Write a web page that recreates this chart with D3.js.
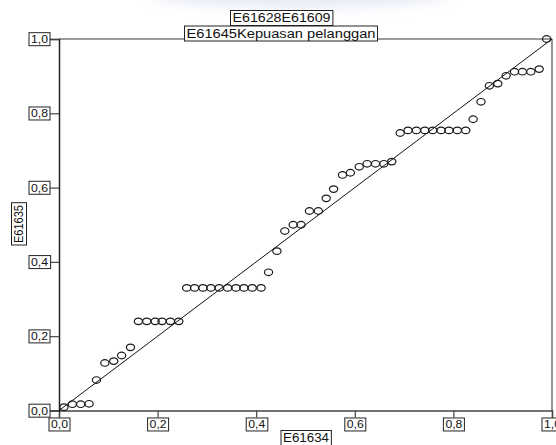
<!DOCTYPE html>
<html>
<head>
<meta charset="utf-8">
<script src="https://cdn.jsdelivr.net/npm/d3@7/dist/d3.min.js"></script>
<style>
  html, body { margin: 0; padding: 0; background: #fff; }
  svg { display: block; }
  text { font-family: "Liberation Sans", Arial, sans-serif; fill: #111; }
</style>
</head>
<body>
<svg id="chart" width="556" height="445"></svg>
<script>
// P-P plot data: expected cumulative proportion (x) vs observed (y)
const expectedCum = [
  0.010, 0.027, 0.044, 0.061, 0.076, 0.093, 0.111, 0.127, 0.145, 0.161,
  0.178, 0.195, 0.209, 0.226, 0.243, 0.259, 0.275, 0.292, 0.308, 0.325,
  0.342, 0.359, 0.375, 0.392, 0.410, 0.425, 0.442, 0.458, 0.475, 0.491,
  0.508, 0.526, 0.542, 0.557, 0.575, 0.591, 0.609, 0.625, 0.642, 0.659,
  0.675, 0.692, 0.708, 0.725, 0.742, 0.758, 0.775, 0.791, 0.808, 0.825,
  0.840, 0.856, 0.873, 0.890, 0.907, 0.924, 0.940, 0.957, 0.974, 0.989
];
const observedCum = [
  0.009, 0.017, 0.017, 0.018, 0.082, 0.128, 0.133, 0.148, 0.170, 0.240,
  0.240, 0.240, 0.240, 0.240, 0.240, 0.330, 0.330, 0.330, 0.330, 0.330,
  0.330, 0.330, 0.330, 0.330, 0.330, 0.372, 0.429, 0.483, 0.500, 0.500,
  0.537, 0.537, 0.571, 0.596, 0.634, 0.640, 0.656, 0.664, 0.664, 0.664,
  0.670, 0.747, 0.754, 0.754, 0.754, 0.754, 0.754, 0.754, 0.754, 0.754,
  0.784, 0.831, 0.874, 0.880, 0.901, 0.912, 0.912, 0.912, 0.919, 1.000
];
const tickValues = [0, 0.2, 0.4, 0.6, 0.8, 1.0];
const tickLabels = ["0,0", "0,2", "0,4", "0,6", "0,8", "1,0"];
const titleLines = ["E61628E61609", "E61645Kepuasan pelanggan"];
const xTitle = "E61634";
const yTitle = "E61635";

const svg = d3.select("#chart");
const x = d3.scaleLinear().domain([0, 1]).range([59, 552]);
const y = d3.scaleLinear().domain([0, 1]).range([410.5, 39]);

// faint haze at the top edge
const defs = svg.append("defs");
defs.append("filter").attr("id", "soft")
  .attr("x", "-50%").attr("y", "-50%").attr("width", "200%").attr("height", "200%")
  .append("feGaussianBlur").attr("stdDeviation", 6);
svg.append("ellipse")
  .attr("cx", 300).attr("cy", -6).attr("rx", 150).attr("ry", 14)
  .attr("fill", "#dfe2f5").attr("opacity", 0.7).attr("filter", "url(#soft)");

// draw a text label with a thin rectangle around it
function boxed(g, pad) {
  g.each(function () {
    const t = d3.select(this);
    const b = this.getBBox();
    d3.select(this.parentNode).insert("rect", function () { return t.node(); })
      .attr("x", b.x - pad).attr("y", b.y - 0.5)
      .attr("width", b.width + 2 * pad).attr("height", b.height + 1)
      .attr("fill", "#fff").attr("stroke", "#222").attr("stroke-width", 1);
  });
}

// frame: top and right edges
svg.append("line").attr("x1", x(0)).attr("x2", x(1)).attr("y1", y(1)).attr("y2", y(1))
  .attr("stroke", "#7a7a7a").attr("stroke-width", 1.6);
svg.append("line").attr("x1", x(1)).attr("x2", x(1)).attr("y1", y(1)).attr("y2", y(0))
  .attr("stroke", "#7a7a7a").attr("stroke-width", 1.6);

// x axis
const xAxis = svg.append("g").attr("transform", `translate(0,${y(0)})`)
  .call(d3.axisBottom(x).tickValues(tickValues).tickSize(7).tickPadding(2)
    .tickFormat((d, i) => tickLabels[i]));
xAxis.select(".domain").attr("stroke", "#444").attr("stroke-width", 1.5);
xAxis.selectAll(".tick line").attr("stroke", "#444").attr("stroke-width", 1.2);
xAxis.selectAll(".tick text")
  .attr("font-size", 11.5).attr("font-family", "Liberation Sans, Arial, sans-serif")
  .attr("fill", "#111").attr("dy", "0.78em")
  .attr("textLength", 17).attr("lengthAdjust", "spacingAndGlyphs");
xAxis.selectAll(".tick text").call(boxed, 2);

// y axis
const yAxis = svg.append("g").attr("transform", `translate(${x(0)},0)`)
  .call(d3.axisLeft(y).tickValues(tickValues).tickSize(9).tickPadding(2)
    .tickFormat((d, i) => tickLabels[i]));
yAxis.select(".domain").attr("stroke", "#222").attr("stroke-width", 1.5);
yAxis.selectAll(".tick line").attr("stroke", "#444").attr("stroke-width", 1.2);
yAxis.selectAll(".tick text")
  .attr("font-size", 11.5).attr("font-family", "Liberation Sans, Arial, sans-serif")
  .attr("fill", "#111")
  .attr("textLength", 17).attr("lengthAdjust", "spacingAndGlyphs");
yAxis.selectAll(".tick text").call(boxed, 2);

// reference diagonal
svg.append("line")
  .attr("x1", x(0)).attr("y1", y(0)).attr("x2", x(1)).attr("y2", y(1))
  .attr("stroke", "#111").attr("stroke-width", 1);

// points
const pts = expectedCum.map((v, i) => ({ ex: v, ob: observedCum[i] }));
svg.append("g").selectAll("ellipse").data(pts).join("ellipse")
  .attr("cx", d => x(d.ex)).attr("cy", d => y(d.ob))
  .attr("rx", 4.1).attr("ry", 3.3)
  .attr("fill", "none").attr("stroke", "#1a1a1a").attr("stroke-width", 1.2);

// titles
const titleG = svg.append("g");
titleG.append("text").attr("x", 281.5).attr("y", 22)
  .attr("text-anchor", "middle").attr("font-size", 12)
  .attr("textLength", 98).attr("lengthAdjust", "spacingAndGlyphs")
  .text(titleLines[0]);
titleG.append("text").attr("x", 281).attr("y", 37.5)
  .attr("text-anchor", "middle").attr("font-size", 12)
  .attr("textLength", 189).attr("lengthAdjust", "spacingAndGlyphs")
  .text(titleLines[1]);
titleG.selectAll("text").call(boxed, 2);

// axis titles
const xt = svg.append("g");
xt.append("text").attr("x", 306).attr("y", 442)
  .attr("text-anchor", "middle").attr("font-size", 12)
  .attr("textLength", 46).attr("lengthAdjust", "spacingAndGlyphs")
  .text(xTitle);
xt.selectAll("text").call(boxed, 2);

const yt = svg.append("g").attr("transform", "translate(23,224) rotate(-90)");
yt.append("text").attr("x", 0).attr("y", 0)
  .attr("text-anchor", "middle").attr("font-size", 12)
  .attr("textLength", 38).attr("lengthAdjust", "spacingAndGlyphs")
  .text(yTitle);
yt.selectAll("text").call(boxed, 2);
</script>
</body>
</html>
